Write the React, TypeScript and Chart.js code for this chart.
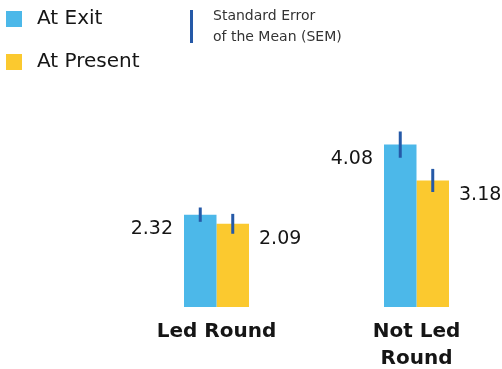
import React, { useEffect, useRef } from "react";
import { Chart, registerables } from "chart.js";

Chart.register(...registerables);

const categories: string[][] = [["Led Round"], ["Not Led", "Round"]];
const seriesNames = ["At Exit", "At Present"];
const atExit = [2.32, 4.08];
const atPresent = [2.09, 3.18];
const semExit = [0.18, 0.33];
const semPresent = [0.25, 0.29];
const semLegend = ["Standard Error", "of the Mean (SEM)"];
const yMin = 0;
const yMax = 5;

const BLUE = "#4cb8e9";
const YELLOW = "#fbc92f";
const SEM_COLOR = "#2559a7";
const TEXT = "#151515";
const FONT_FAMILY = "'DejaVu Sans', sans-serif";

const overlayPlugin = {
  id: "overlay",
  afterDatasetsDraw(chart: any) {
    const ctx = chart.ctx as CanvasRenderingContext2D;
    const yScale = chart.scales.y;
    const sems = [semExit, semPresent];
    chart.data.datasets.forEach((ds: any, di: number) => {
      const meta = chart.getDatasetMeta(di);
      meta.data.forEach((bar: any, i: number) => {
        const v = ds.data[i] as number;
        const s = sems[di][i];
        ctx.save();
        ctx.strokeStyle = SEM_COLOR;
        ctx.lineWidth = 3;
        ctx.beginPath();
        ctx.moveTo(bar.x, yScale.getPixelForValue(v + s));
        ctx.lineTo(bar.x, yScale.getPixelForValue(v - s));
        ctx.stroke();
        ctx.font = `400 19px ${FONT_FAMILY}`;
        ctx.fillStyle = TEXT;
        ctx.textBaseline = "middle";
        const half = bar.width / 2;
        if (di === 0) {
          ctx.textAlign = "right";
          ctx.fillText(v.toFixed(2), bar.x - half - 11, bar.y + 14);
        } else {
          ctx.textAlign = "left";
          ctx.fillText(v.toFixed(2), bar.x + half + 10, bar.y + 15);
        }
        ctx.restore();
      });
    });

    // legend
    ctx.save();
    const colors = [BLUE, YELLOW];
    const rows = [19, 62];
    seriesNames.forEach((name, k) => {
      ctx.fillStyle = colors[k];
      ctx.fillRect(6, rows[k] - 8, 16, 16);
      ctx.fillStyle = TEXT;
      ctx.font = `400 20px ${FONT_FAMILY}`;
      ctx.textAlign = "left";
      ctx.textBaseline = "middle";
      ctx.fillText(name, 37, rows[k]);
    });
    ctx.strokeStyle = SEM_COLOR;
    ctx.lineWidth = 3;
    ctx.beginPath();
    ctx.moveTo(191.5, 10);
    ctx.lineTo(191.5, 43);
    ctx.stroke();
    ctx.fillStyle = "#333";
    ctx.font = `400 14px ${FONT_FAMILY}`;
    ctx.textBaseline = "middle";
    semLegend.forEach((t, k) => {
      ctx.fillText(t, 213, 16 + k * 21);
    });
    ctx.restore();
  },
};

export default function App() {
  const ref = useRef<HTMLCanvasElement | null>(null);
  useEffect(() => {
    if (!ref.current) return;
    const chart = new Chart(ref.current, {
      type: "bar",
      data: {
        labels: categories,
        datasets: [
          { label: seriesNames[0], data: atExit, backgroundColor: BLUE, borderWidth: 0, clip: false as any },
          { label: seriesNames[1], data: atPresent, backgroundColor: YELLOW, borderWidth: 0, clip: false as any },
        ],
      },
      options: {
        animation: false,
        responsive: true,
        maintainAspectRatio: false,
        layout: { padding: { left: 216.5, right: 85.5, top: 108, bottom: 0 } },
        datasets: { bar: { barPercentage: 1, categoryPercentage: 0.325 } },
        plugins: { legend: { display: false }, tooltip: { enabled: false } },
        scales: {
          x: {
            type: "category",
            offset: false,
            grid: { display: false, drawTicks: false },
            border: { display: false },
            ticks: {
              padding: 11,
              color: TEXT,
              font: { family: FONT_FAMILY, size: 20, weight: "bold", lineHeight: 1.35 },
              maxRotation: 0,
              autoSkip: false,
            },
          },
          y: { display: false, min: yMin, max: yMax },
        },
      },
      plugins: [overlayPlugin],
    });
    return () => chart.destroy();
  }, []);
  return (
    <div style={{ position: "fixed", left: 0, top: 0, width: 502, height: 383, background: "#fff" }}>
      <canvas ref={ref} />
    </div>
  );
}
